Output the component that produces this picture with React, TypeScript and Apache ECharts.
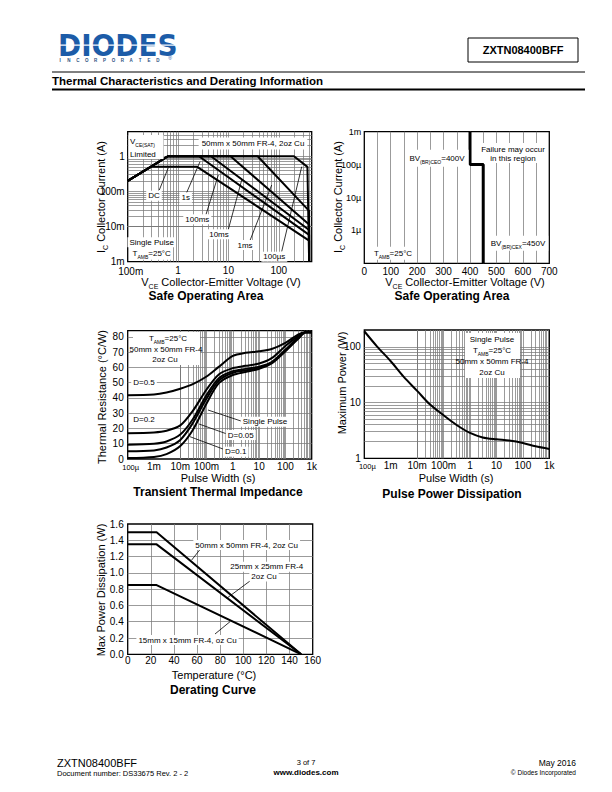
import React, { useEffect, useRef } from "react";
import * as echarts from "echarts";

const FONT = '"Liberation Sans", Arial, Helvetica, sans-serif';

// ---------- Chart 1: Safe Operating Area (VCE [V], IC [A]) ----------
const soaDC = [[0.1, 0.2], [0.29, 0.5], [2.4, 0.5], [400, 0.004], [400, 0.001]];
const soa1s = [[0.1, 0.2], [0.63, 1], [2.6, 1], [400, 0.0058], [400, 0.001]];
const soa100ms = [[0.1, 0.2], [0.63, 1], [4.5, 1], [400, 0.008], [400, 0.001]];
const soa10ms = [[0.1, 0.2], [0.63, 1], [11, 1], [400, 0.0115], [400, 0.001]];
const soa1ms = [[0.1, 0.2], [0.63, 1], [38, 1], [400, 0.028], [400, 0.001]];
const soa100us = [[0.1, 0.2], [0.63, 1], [200, 1], [370, 0.5], [400, 0.001]];
const soaXTicks: Record<string, string> = { "-1": "{first|100m}", "0": "1", "1": "10", "2": "100" };
const soaYTicks: Record<string, string> = { "-3": "1m", "-2": "10m", "-1": "100m", "0": "1" };

// ---------- Chart 2: Safe Operating Area, linear VCE ----------
const bvVoltage = [400, 400, 450, 450];
const bvCurrent = [1e-3, 1e-4, 1e-4, 1e-7];
const soa2YTicks: Record<string, string> = { "-3": "1m", "-4": "100µ", "-5": "10µ", "-6": "1µ" };

// ---------- Chart 3: Transient Thermal Impedance ----------
const pulseWidths = [1e-4, 1e-3, 3e-3, 1e-2, 3e-2, 0.1, 0.3, 1, 3, 10, 30, 100, 300, 600, 1000];
const zthD05 = [41.8, 42.2, 43.5, 46, 49, 54, 60.5, 67.5, 69.5, 70.5, 72, 76, 81.5, 83, 83];
const zthD02 = [16.9, 17.4, 18.5, 22, 31.5, 45.5, 55.5, 59.5, 61, 62.5, 66, 74, 80.5, 83, 83];
const zthD01 = [9.3, 10, 11.5, 16, 26, 41.8, 53, 57.5, 59, 60.5, 63.5, 71.5, 79.5, 83, 83];
const zthD005 = [5, 5.6, 7.5, 12.5, 23.5, 39.6, 51.5, 56.5, 58, 59.8, 63, 71, 79, 83, 83];
const zthSingle = [0.6, 1.3, 3.2, 8.5, 19, 36.4, 49.8, 55, 57, 59, 62.5, 70.5, 78.5, 83, 83];
const pulseTicks: Record<string, string> = {
  "-4": "{sm|100µ}", "-3": "1m", "-2": "10m", "-1": "100m", "0": "1", "1": "10", "2": "100", "3": "1k",
};

// ---------- Chart 4: Pulse Power Dissipation ----------
const ppWidths = [1e-4, 3e-4, 1e-3, 3e-3, 1e-2, 3e-2, 0.1, 0.3, 1, 3, 10, 30, 100, 300, 1000];
const ppPower = [190, 102, 55, 29.4, 16.2, 9.3, 5.9, 4.0, 2.85, 2.37, 2.19, 2.08, 1.88, 1.64, 1.47];
const powerTicks: Record<string, string> = { "0": "1", "1": "10", "2": "100" };

// ---------- Chart 5: Derating Curve ----------
const temps = [0, 25, 150];
const pd50 = [1.5, 1.5, 0];
const pd25 = [1.35, 1.35, 0];
const pd15 = [0.85, 0.85, 0];

// ---------- helpers ----------
const logFmt = (map: Record<string, string>) => (v: number) => {
  const e = Math.log10(v);
  const r = Math.round(e);
  return Math.abs(e - r) < 1e-6 && map[String(r)] !== undefined ? map[String(r)] : "";
};

function decadeLines(lo: number, hi: number) {
  const out: number[] = [];
  for (let e = Math.floor(Math.log10(lo)); e <= Math.ceil(Math.log10(hi)); e++) {
    for (let k = 1; k <= 9; k++) {
      const v = k * Math.pow(10, e);
      if (v > lo * 1.0001 && v < hi * 0.9999) out.push(v);
    }
  }
  return out;
}
function stepLines(lo: number, hi: number, step: number) {
  const out: number[] = [];
  for (let v = lo + step; v < hi - step / 1000; v += step) out.push(Math.round(v * 1000) / 1000);
  return out;
}

const labelBase = { color: "#000", fontFamily: FONT, fontSize: 10 };
const hidden = {
  axisLine: { show: false },
  axisTick: { show: false },
  splitLine: { show: false },
  minorTick: { show: false },
  minorSplitLine: { show: false },
};

function logAxis(gridIndex: number, min: number, max: number, map: Record<string, string>, label: any = {}) {
  return {
    gridIndex, type: "log", logBase: 10, min, max, splitNumber: 10, ...hidden,
    axisLabel: { ...labelBase, formatter: logFmt(map), showMinLabel: true, showMaxLabel: true, ...label },
  };
}
function linAxis(gridIndex: number, min: number, max: number, interval: number, fmt: (v: number) => string, label: any = {}) {
  return {
    gridIndex, type: "value", min, max, interval, ...hidden,
    axisLabel: { ...labelBase, formatter: fmt, showMinLabel: true, showMaxLabel: true, ...label },
  };
}

function gridSeries(i: number, xs: number[], ys: number[]) {
  return {
    type: "line", xAxisIndex: i, yAxisIndex: i, data: [], z: 1, silent: true, symbol: "none",
    markLine: {
      z: 1, silent: true, symbol: ["none", "none"], label: { show: false }, animation: false,
      lineStyle: { color: "#7a7a7a", width: 0.75, type: "solid" },
      emphasis: { disabled: true },
      data: [...xs.map((v) => ({ xAxis: v })), ...ys.map((v) => ({ yAxis: v }))],
    },
  };
}
function curve(i: number, data: number[][], width = 2, smooth: any = false) {
  return {
    type: "line", xAxisIndex: i, yAxisIndex: i, data, symbol: "none", showSymbol: false, z: 10, silent: true,
    smooth, lineStyle: { color: "#000", width }, emphasis: { disabled: true },
  };
}
const zip = (xs: number[], ys: number[]) => xs.map((x, j) => [x, ys[j]]);

function sub(size: number) {
  return {
    m: { fontSize: size, fontFamily: FONT, fill: "#000", lineHeight: size + 5, verticalAlign: "middle" },
    s: { fontSize: Math.round(size * 0.62), fontFamily: FONT, fill: "#000", lineHeight: size + 5, verticalAlign: "bottom" },
  };
}
function text(x: number, y: number, t: string, size: number, o: any = {}) {
  const align = o.align || "center";
  const style: any = {
    text: t, fill: o.color || "#000", fontSize: size, fontFamily: o.family || FONT,
    fontWeight: o.bold ? "bold" : "normal", align, textAlign: align,
    verticalAlign: "middle", textVerticalAlign: "middle",
  };
  if (o.rich) style.rich = o.rich;
  if (o.bg) {
    style.backgroundColor = o.bg;
    style.padding = o.pad || [1, 2];
  }
  const el: any = { type: "text", x, y, z: 20, silent: true, style };
  if (o.rotation) el.rotation = o.rotation;
  if (o.scaleX) el.scaleX = o.scaleX;
  return el;
}
const line = (x1: number, y1: number, x2: number, y2: number, w = 0.8, color = "#000") => ({
  type: "line", z: 18, silent: true, shape: { x1, y1, x2, y2 }, style: { stroke: color, lineWidth: w },
});
const rect = (x: number, y: number, width: number, height: number, fill = "#fff", stroke?: string, lw = 1) => ({
  type: "rect", z: 15, silent: true, shape: { x, y, width, height },
  style: stroke ? { fill, stroke, lineWidth: lw } : { fill },
});

const ROT = Math.PI / 2;
const TAMB = "{m|T}{s|AMB}{m|=25°C}";

function buildGraphics() {
  const g: any[] = [];
  // header
  g.push(text(58, 45, "DIODES", 31, { align: "left", bold: true, family: '"DejaVu Sans", sans-serif', color: "#1c5ca8", scaleX: 0.9 }));
  g.push({ type: "rect", z: 21, silent: true, shape: { x: 57, y: 44.6, width: 118, height: 1.2 }, style: { fill: "#fff" } });
  "INCORPORATED".split("").forEach((c, i) => g.push(text(60 + i * 8.9, 60.5, c, 4.5, { bold: true, color: "#2b4f7e" })));
  g.push(text(170, 57.5, "®", 5, { color: "#1c5ca8" }));
  g.push(rect(468, 38, 110, 24, "none", "#000", 1));
  g.push(text(523, 50, "ZXTN08400BFF", 11, { bold: true }));
  g.push(line(52, 72, 585, 72, 1));
  g.push(text(52, 80.5, "Thermal Characteristics and Derating Information", 11.5, { align: "left", bold: true }));
  g.push(line(52, 89.5, 585, 89.5, 2));
  // footer
  g.push(text(57, 763, "ZXTN08400BFF", 11, { align: "left" }));
  g.push(text(57, 773, "Document number: DS33675 Rev. 2 - 2", 7.5, { align: "left" }));
  g.push(text(306, 762.5, "3 of 7", 7.5));
  g.push(text(306, 772, "www.diodes.com", 8, { bold: true }));
  g.push(text(576, 763, "May 2016", 8.5, { align: "right" }));
  g.push(text(576, 772, "© Diodes Incorporated", 6.5, { align: "right" }));

  // chart 1
  g.push(text(101, 197, "{m|I}{s|C}{m| Collector Current (A)}", 11, { rich: sub(11), rotation: ROT }));
  g.push(text(221, 281.7, "{m|V}{s|CE}{m| Collector-Emitter Voltage (V)}", 11, { rich: sub(11) }));
  g.push(text(206, 296, "Safe Operating Area", 12, { bold: true }));
  g.push(rect(128.5, 135, 35, 24));
  g.push(text(130, 141, "{m|V}{s|CE(SAT)}", 8, { align: "left", rich: sub(8) }));
  g.push(text(130, 154, "Limited", 8, { align: "left" }));
  g.push(text(253, 143.5, "50mm x 50mm FR-4, 2oz Cu", 8, { bg: "#fff", pad: [2, 3] }));
  g.push(text(154, 195.7, "DC", 8, { bg: "#fff" }));
  g.push(text(185.7, 197.7, "1s", 8, { bg: "#fff" }));
  g.push(text(197.3, 219.3, "100ms", 8, { bg: "#fff" }));
  g.push(text(219, 234.3, "10ms", 8, { bg: "#fff" }));
  g.push(text(245, 245, "1ms", 8, { bg: "#fff" }));
  g.push(text(274.3, 256.7, "100µs", 8, { bg: "#fff" }));
  g.push(text(151.7, 242.3, "Single Pulse", 8, { bg: "#fff" }));
  g.push(text(151.7, 253.3, TAMB, 8, { rich: sub(8), bg: "#fff", pad: [0, 2] }));
  g.push(line(159.3, 190, 168.3, 167.7));
  g.push(line(186.7, 192.5, 200, 161.7));
  g.push(line(206, 214.5, 218.3, 175));
  g.push(line(228.3, 229.5, 241.7, 180));
  g.push(line(250, 240.5, 271.7, 185));
  g.push(line(281.7, 251.5, 301.7, 166.7));

  // chart 2
  g.push(text(338, 197, "{m|I}{s|C}{m| Collector Current (A)}", 11, { rich: sub(11), rotation: ROT }));
  g.push(text(465, 281.7, "{m|V}{s|CE}{m| Collector-Emitter Voltage (V)}", 11, { rich: sub(11) }));
  g.push(text(452, 296, "Safe Operating Area", 12, { bold: true }));
  g.push(text(437, 158.3, "{m|BV}{s|(BR)CEO}{m|=400V}", 8, { rich: sub(8), bg: "#fff", pad: [2, 4] }));
  g.push(rect(478, 143, 68, 20));
  g.push(text(513, 149, "Failure may occur", 8));
  g.push(text(513, 158.3, "in this region", 8));
  g.push(text(518, 243.3, "{m|BV}{s|(BR)CEX}{m|=450V}", 8, { rich: sub(8), bg: "#fff", pad: [1, 3] }));
  g.push(text(393, 253.3, TAMB, 8, { rich: sub(8), bg: "#fff", pad: [0, 3] }));

  // chart 3
  g.push(text(102, 397, "Thermal Resistance (°C/W)", 11, { rotation: ROT }));
  g.push(text(218, 478, "Pulse Width (s)", 11));
  g.push(text(218, 491.5, "Transient Thermal Impedance", 12, { bold: true }));
  g.push(rect(133, 332, 67, 33));
  g.push(text(168, 338.3, TAMB, 8, { rich: sub(8) }));
  g.push(text(166, 349, "50mm x 50mm FR-4", 8));
  g.push(text(165, 359.5, "2oz Cu", 8));
  g.push(text(144, 382.3, "D=0.5", 8, { bg: "#fff" }));
  g.push(text(144, 419.3, "D=0.2", 8, { bg: "#fff" }));
  g.push(text(265, 421.7, "Single Pulse", 8, { bg: "#fff" }));
  g.push(text(240.7, 435, "D=0.05", 8, { bg: "#fff" }));
  g.push(text(235.7, 451.7, "D=0.1", 8, { bg: "#fff" }));
  g.push(line(243, 421.7, 208, 410));
  g.push(line(227, 434, 199, 424));
  g.push(line(223, 449, 190, 436.7));

  // chart 4
  g.push(text(341.5, 383, "Maximum Power (W)", 11, { rotation: ROT }));
  g.push(text(456, 478, "Pulse Width (s)", 11));
  g.push(text(452, 493.5, "Pulse Power Dissipation", 12, { bold: true }));
  g.push(rect(465, 333, 55, 45));
  g.push(text(492, 339, "Single Pulse", 8));
  g.push(text(492, 350, TAMB, 8, { rich: sub(8) }));
  g.push(text(492, 361, "50mm x 50mm FR-4", 8));
  g.push(text(492, 372, "2oz Cu", 8));

  // chart 5
  g.push(text(101, 590, "Max Power Dissipation (W)", 11, { rotation: ROT }));
  g.push(text(214, 674.5, "Temperature (°C)", 11));
  g.push(text(213, 690, "Derating Curve", 12, { bold: true }));
  g.push(text(246.7, 545, "50mm x 50mm FR-4, 2oz Cu", 8, { bg: "#fff" }));
  g.push(text(266.7, 566.7, "25mm x 25mm FR-4", 8, { bg: "#fff" }));
  g.push(text(264, 576.5, "2oz Cu", 8, { bg: "#fff" }));
  g.push(text(187.5, 640, "15mm x 15mm FR-4, oz Cu", 8, { bg: "#fff" }));
  g.push(line(200, 549.5, 191.7, 560));
  g.push(line(250, 581, 226.7, 598.3));
  g.push(line(215, 634, 230, 621.7));
  return g;
}

function buildOption() {
  const gridBase = { show: true, borderColor: "#000", borderWidth: 1.3, backgroundColor: "transparent", containLabel: false, outerBoundsMode: "none" };
  const smRich = { sm: { fontSize: 7.5, fontFamily: FONT, color: "#000", padding: [2, 0, 0, 6] } };
  const firstRich = { first: { fontSize: 10, fontFamily: FONT, color: "#000", padding: [1, 0, 0, 6] } };
  return {
    animation: false,
    backgroundColor: "#fff",
    textStyle: { fontFamily: FONT },
    grid: [
      { ...gridBase, left: 127.7, top: 131.7, width: 184, height: 130 },
      { ...gridBase, left: 364.3, top: 131.7, width: 185, height: 131.6 },
      { ...gridBase, left: 127.7, top: 330.7, width: 184, height: 128.3 },
      { ...gridBase, left: 364.3, top: 330, width: 185, height: 128.3 },
      { ...gridBase, left: 127.7, top: 524, width: 185, height: 130.3 },
    ],
    xAxis: [
      logAxis(0, 0.1, 450, soaXTicks, { margin: 4, rich: firstRich }),
      linAxis(1, 0, 700, 100, (v) => String(v), { margin: 3 }),
      logAxis(2, 1e-4, 1e3, pulseTicks, { margin: 2, rich: smRich }),
      logAxis(3, 1e-4, 1e3, pulseTicks, { margin: 2, rich: smRich }),
      linAxis(4, 0, 160, 20, (v) => String(v), { margin: 1 }),
    ],
    yAxis: [
      logAxis(0, 0.001, 5, soaYTicks, { margin: 3 }),
      logAxis(1, 1e-7, 1e-3, soa2YTicks, { margin: 3, fontSize: 9 }),
      linAxis(2, 0, 84, 10, (v) => (v % 10 === 0 ? String(v) : ""), { margin: 4 }),
      logAxis(3, 1, 200, powerTicks, { margin: 3.5 }),
      linAxis(4, 0, 1.6, 0.2, (v) => v.toFixed(1), { margin: 4 }),
    ],
    series: [
      gridSeries(0, decadeLines(0.1, 450), decadeLines(0.001, 5)),
      gridSeries(1, stepLines(0, 700, 50), decadeLines(1e-7, 1e-3)),
      gridSeries(2, decadeLines(1e-4, 1e3), stepLines(0, 84, 10)),
      gridSeries(3, decadeLines(1e-4, 1e3), decadeLines(1, 200)),
      gridSeries(4, stepLines(0, 160, 20), stepLines(0, 1.6, 0.2)),
      curve(0, soaDC), curve(0, soa1s), curve(0, soa100ms), curve(0, soa10ms), curve(0, soa1ms), curve(0, soa100us),
      curve(1, zip(bvVoltage, bvCurrent), 3),
      curve(2, zip(pulseWidths, zthD05), 2, 0.3),
      curve(2, zip(pulseWidths, zthD02), 2, 0.3),
      curve(2, zip(pulseWidths, zthD01), 2, 0.3),
      curve(2, zip(pulseWidths, zthD005), 2, 0.3),
      curve(2, zip(pulseWidths, zthSingle), 2, 0.3),
      curve(3, zip(ppWidths, ppPower), 2, 0.3),
      curve(4, zip(temps, pd50)), curve(4, zip(temps, pd25)), curve(4, zip(temps, pd15)),
    ],
    graphic: { elements: buildGraphics() },
  };
}

export default function App() {
  const ref = useRef<HTMLDivElement>(null);
  useEffect(() => {
    const chart = echarts.init(ref.current!, null, { renderer: "svg", width: 612, height: 792 });
    chart.setOption(buildOption() as any);
    return () => chart.dispose();
  }, []);
  return (
    <div
      ref={ref}
      style={{ position: "absolute", left: 0, top: 0, width: 612, height: 792, background: "#fff" }}
    />
  );
}
